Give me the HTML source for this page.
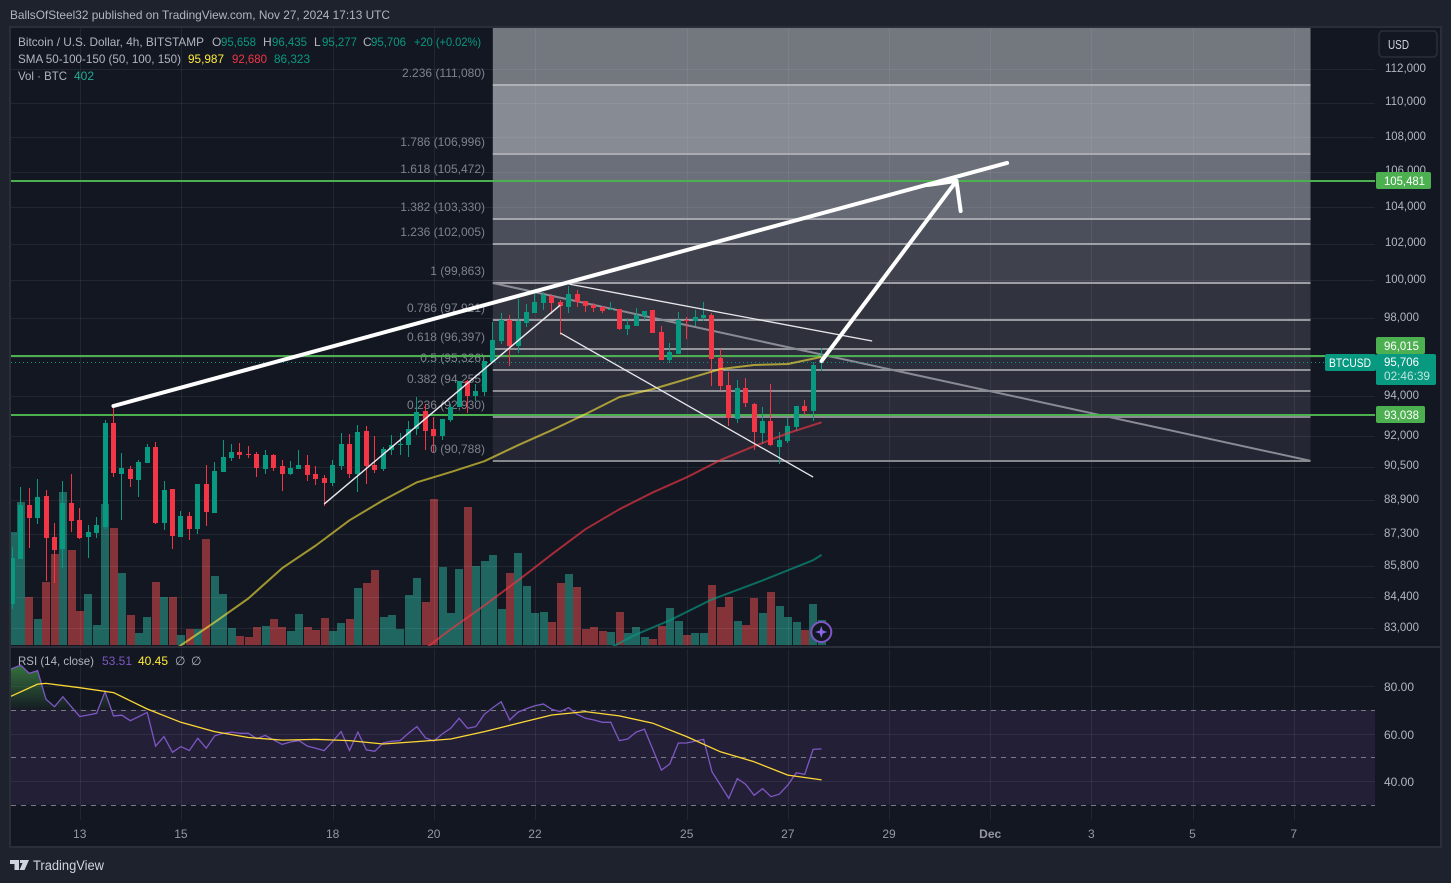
<!DOCTYPE html>
<html lang="en">
<head>
<meta charset="utf-8">
<title>BTCUSD 4h chart</title>
<style>
html,body{margin:0;padding:0;background:#1e222d;width:1451px;height:883px;overflow:hidden}
svg{display:block;font-family:"Liberation Sans",sans-serif;font-size:12px}
</style>
</head>
<body>
<svg id="chart" xmlns="http://www.w3.org/2000/svg" width="1451" height="883" viewBox="0 0 1451 883">
  <defs>
    <clipPath id="plot-clip"><rect x="11" y="28" width="1364" height="618"></rect></clipPath>
    <clipPath id="rsi-clip"><rect x="11" y="649" width="1364" height="171"></rect></clipPath>
    <clipPath id="rsi-over-clip"><rect x="11" y="649" width="1364" height="61"></rect></clipPath>
    <linearGradient id="rsi-over-gradient" x1="0" y1="665" x2="0" y2="710" gradientUnits="userSpaceOnUse">
      <stop offset="0" stop-color="#4caf50" stop-opacity="0.6"></stop>
      <stop offset="1" stop-color="#4caf50" stop-opacity="0.03"></stop>
    </linearGradient>
  </defs>
  <rect x="0" y="0" width="1451" height="883" fill="#1e222d"></rect>
  <text x="10" y="19" fill="#b2b5be" textLength="380" lengthAdjust="spacingAndGlyphs">BallsOfSteel32 published on TradingView.com, Nov 27, 2024 17:13 UTC</text>
  <rect x="10" y="27" width="1431" height="820" fill="#131722" stroke="#2a2e39" stroke-width="2"></rect>
  <g id="layer-back"></g>
  <g id="layer-main" clip-path="url(#plot-clip)"></g>
  <g id="layer-rsi" clip-path="url(#rsi-clip)"></g>
  <rect x="10" y="646" width="1431" height="2" fill="#2a2e39"></rect>
  <g id="layer-axis"></g>

  <g>
    <text x="18" y="46" fill="#b2b5be" textLength="186" lengthAdjust="spacingAndGlyphs">Bitcoin / U.S. Dollar, 4h, BITSTAMP</text>
    <text x="212" y="46" fill="#b2b5be">O</text>
    <text x="221" y="46" fill="#089981" textLength="35" lengthAdjust="spacingAndGlyphs">95,658</text>
    <text x="263" y="46" fill="#b2b5be">H</text>
    <text x="272" y="46" fill="#089981" textLength="35" lengthAdjust="spacingAndGlyphs">96,435</text>
    <text x="314" y="46" fill="#b2b5be">L</text>
    <text x="322" y="46" fill="#089981" textLength="35" lengthAdjust="spacingAndGlyphs">95,277</text>
    <text x="363" y="46" fill="#b2b5be">C</text>
    <text x="371" y="46" fill="#089981" textLength="35" lengthAdjust="spacingAndGlyphs">95,706</text>
    <text x="414" y="46" fill="#089981" textLength="67" lengthAdjust="spacingAndGlyphs">+20 (+0.02%)</text>
    <text x="18" y="63" fill="#b2b5be" textLength="163" lengthAdjust="spacingAndGlyphs">SMA 50-100-150 (50, 100, 150)</text>
    <text x="188" y="63" fill="#ffeb3b" textLength="36" lengthAdjust="spacingAndGlyphs">95,987</text>
    <text x="232" y="63" fill="#f23645" textLength="35" lengthAdjust="spacingAndGlyphs">92,680</text>
    <text x="274" y="63" fill="#089981" textLength="36" lengthAdjust="spacingAndGlyphs">86,323</text>
    <text x="18" y="80" fill="#b2b5be" textLength="49" lengthAdjust="spacingAndGlyphs">Vol · BTC</text>
    <text x="74" y="80" fill="#22ab94">402</text>
  </g>
  <g>
    <text x="18" y="665" fill="#b2b5be" textLength="76" lengthAdjust="spacingAndGlyphs">RSI (14, close)</text>
    <text x="102" y="665" fill="#7e57c2">53.51</text>
    <text x="138" y="665" fill="#ffeb3b">40.45</text>
    <text x="175" y="665" fill="#b2b5be">∅</text>
    <text x="191" y="665" fill="#b2b5be">∅</text>
  </g>
  <g>
    <path d="M10 860h9v10h-4.500v-6h-4.500zM20 860h9l-4.500 10h-5l3-7h-2.500z" fill="#d1d4dc"></path>
    <text x="33" y="870" font-size="13.500" fill="#d1d4dc" textLength="71" lengthAdjust="spacingAndGlyphs">TradingView</text>
  </g>
</svg>
<script>
var opens = [84060,86120,88650,88040,89080,87140,86590,88740,87940,87140,87330,87610,92640,90140,90380,89850,90670,91460,87800,89410,87140,88130,87520,89650,88270,90240,90920,91210,91110,91110,90380,91060,90530,90140,90380,90580,90140,89950,89700,90530,91600,90140,92240,90580,90380,91310,91550,91550,92340,93240,92340,92000,92790,93440,94750,93990,94190,95720,96810,97900,96550,97740,98270,98790,99170,98850,98580,99280,98900,98690,98580,98430,98480,97430,97590,98110,98430,97270,95820,96130,97900,97850,98000,98160,95930,94550,92840,94400,93590,92140,92740,91460,91750,92440,93490,93240,95658];
var highs = [86680,89510,89460,89900,89370,87800,89800,90140,88510,87710,88080,92790,93390,91160,90530,90820,91600,91700,89800,89410,88370,88320,89650,90580,90720,91800,91600,91650,91500,91210,91310,91110,90820,90770,91310,91060,90530,90090,90820,92140,92100,92540,92490,92000,91460,92050,92140,92740,93940,93590,92940,92840,93590,94750,94800,94600,95770,97790,98270,98160,99010,98740,99280,99380,99280,98950,99710,99490,98900,98790,98640,98850,98480,98000,98530,98370,98430,97590,96700,98320,98060,98430,98850,98270,96390,95210,94800,94900,93640,93440,94600,92190,92890,93490,93790,95720,96435];
var lows = [83840,86120,86630,87750,85110,85020,85710,87380,87050,86170,87100,87520,89990,87940,89510,89030,90670,87750,87470,86590,87140,87000,87280,87660,88270,90240,90770,90870,90920,89990,90140,90280,89320,90090,90380,89800,89610,88600,89560,90330,89950,89270,89650,90190,90280,91060,91060,90970,92050,91310,91210,91800,92690,93440,93140,93740,93990,95720,96650,95520,96190,97530,98270,98430,98220,97120,98270,98580,98320,98320,98270,98430,97380,97120,97590,97900,97220,95820,95670,96130,96910,97590,97850,94500,94290,92490,92640,93440,91310,91600,91500,90620,91650,92240,93040,92740,95277];
var closes = [86170,88650,88040,89030,87100,86540,88740,87890,87100,87380,87710,92640,90190,90430,89900,90720,91460,87800,89370,87190,88130,87520,89650,88320,90280,90970,91210,91060,91060,90430,91060,90430,90140,90430,90580,90090,89900,89700,90580,91600,90140,92190,90530,90330,91360,91550,91600,92340,93190,92240,92000,92840,93440,94750,93990,94240,95770,96860,97900,96550,97850,98320,98850,99220,98790,98640,99280,98850,98640,98530,98370,98480,97430,97640,98160,98370,97220,95820,96240,97900,97850,98060,98160,95880,94500,92890,94400,93640,92190,92740,91550,91800,92490,93490,93240,95570,95706];
var volumes = [1824,2304,768,416,1008,1456,2464,1520,544,816,320,2272,1888,1152,480,192,448,1008,768,768,160,256,256,1712,1104,816,272,144,128,288,304,416,288,224,496,288,240,432,224,352,416,912,992,1200,448,480,256,800,1072,688,2352,1248,512,1216,2224,1264,1344,1440,576,1152,1472,944,512,528,368,992,1136,928,256,288,224,208,528,192,288,128,96,304,592,384,160,192,192,960,608,768,384,320,752,512,848,624,448,368,240,656,402];
var rsiLeadIn = 85.3;
var rsiValues = [87.4,88.8,85.3,86.5,74.4,71.3,75.5,71.3,67.1,67.8,68.5,77.6,67.4,67.7,65.4,67.1,68.9,54.7,58.7,52.1,54.5,52.8,58.0,53.8,59.0,60.1,60.6,60.1,60.1,57.8,59.2,57.3,55.4,56.4,57.0,54.7,53.8,52.8,56.6,60.8,52.9,60.6,53.1,52.5,56.1,56.7,57.0,60.1,62.9,58.2,56.8,59.8,62.2,66.4,62.2,62.9,68.1,70.9,73.4,65.7,69.0,70.5,71.7,72.4,70.2,69.2,70.9,68.1,66.4,65.7,64.7,64.7,57.0,57.7,60.6,61.8,53.1,44.6,47.2,56.0,56.0,56.8,57.5,43.9,38.3,32.7,41.0,38.6,34.0,36.8,33.4,34.5,38.3,43.5,42.8,53.3,53.51];
var rsiMaBars = [-1,0,3,4,8,12,16,20,24,28,32,36,40,44,48,52,56,60,64,68,72,76,80,84,88,92,96];
var rsiMaValues = [74.8,75.9,80.8,81.1,79.3,77.2,70.3,64.7,60.8,58.3,57.2,57.5,57.0,55.6,56.6,57.7,60.8,64.3,67.8,69.2,67.4,64.3,58.7,52.3,48.1,42.5,40.45];
var sma50Bars = [19,20,24,28,32,36,40,44,48,52,56,60,64,68,72,76,80,84,88,92,96];
var sma50Values = [82010,82240,83260,84330,85710,86760,87940,88890,89750,90240,90770,91550,92290,93090,93940,94350,94850,95360,95570,95620,95987];
var sma100Bars = [49,52,56,60,64,68,72,76,80,84,88,92,96];
var sma100Values = [82100,82950,84020,85150,86350,87520,88460,89270,89990,90820,91500,92140,92680];
var sma150Bars = [71,74,78,83,89,95,96];
var sma150Values = [82140,82720,83350,84290,85150,86080,86323];
var priceTicks = [112000,110000,108000,106000,104000,102000,100000,98000,96000,94000,92000,90500,88900,87300,85800,84400,83000];
var rsiTicks = [80,60,40];
var rsiBands = [70,50,30];
var dateLabels = ["13","15","18","20","22","25","27","29","Dec","3","5","7"];
var dateBars = [8,20,38,50,62,80,92,104,116,128,140,152];
var fibRatios = ["0","0.236","0.382","0.5","0.618","0.786","1","1.236","1.382","1.618","1.786","2.236"];
var fibPrices = [90788,92930,94255,95326,96397,97921,99863,102005,103330,105472,106996,111080];
var levelPrices = [105481,96015,93038];
var fibStartBar = 57;
var fibEndBar = 154;
var fibTopPrice = 115500;
var lastPrice = 95706;
var trendStartBars = [12,65,65,37,66,96];
var trendStartPrices = [93494,98690,97230,88710,99810,95777];
var trendEndBars = [118,37,95,65,102,112];
var trendEndPrices = [106500,88710,90000,98690,96810,105481];
var arrowWingBars = [108.6,112.5];
var arrowWingPrices = [105250,103790];
var arrowTipBar = 112;
var arrowTipPrice = 105481;

function yPrice(p){return 69+1866*Math.log(112000/p);}
function xBar(i){return 12.3+8.43*i;}
function yVolume(v){return 645-v/16.08;}
function yRsi(v){return 686+(80-v)*2.375;}

var NS='http://www.w3.org/2000/svg';
function make(parent,tag,attrs,text){
  var n=document.createElementNS(NS,tag);
  for(var k in attrs){n.setAttribute(k,attrs[k]);}
  if(text!==undefined){n.textContent=text;}
  parent.appendChild(n);
  return n;
}
function fmt(p){return String(p).replace(/\B(?=(\d{3})+$)/g,',');}
function polyPoints(bars,vals,yf){
  return bars.map(function(b,i){return xBar(b).toFixed(1)+','+yf(vals[i]).toFixed(1);}).join(' ');
}
function allBars(arr){return arr.map(function(_,i){return i;});}
function labelWidth(s){return s.length>=7?41:35;}
function fibY(p){return Math.round(yPrice(p)+0.15);}

var main=document.getElementById('layer-main');
var rsi=document.getElementById('layer-rsi');
var axis=document.getElementById('layer-axis');
var el;

// volume
volumes.forEach(function(v,i){
  var top=Math.round(yVolume(v));
  el=make(main,'rect',{x:Math.round(xBar(i)-3.7),y:top,width:8,height:645-top,fill:closes[i]>=opens[i]?'#1f6661':'#843439'});
  
  
});

// fib zones
var fibBandColors=['#242733','#2a2d39','#2c2f3b','#2c2f3b','#2e303c','#31343f','#3f424d','#4b4f5b','#666a75','#6b6f79','#878c94','#73787f'];
var fibX0=xBar(fibStartBar), fibX1=xBar(fibEndBar);
var fibEdges=fibPrices.concat([fibTopPrice]);
for(var b=0;b<fibEdges.length-1;b++){
  var yb=fibY(fibEdges[b]), yt=Math.max(28,fibY(fibEdges[b+1]));
  el=make(main,'rect',{x:fibX0,y:yt,width:fibX1-fibX0,height:yb-yt,fill:fibBandColors[b]});
  
  
}

// grid
priceTicks.forEach(function(p){
  var y=Math.round(yPrice(p))+0.5;
  el=make(main,'line',{x1:11,x2:1375,y1:y,y2:y,stroke:'#f0f3fa','stroke-opacity':0.07});
  
  
});
dateBars.forEach(function(b){
  var x=Math.round(xBar(b))+0.5;
  el=make(main,'line',{x1:x,x2:x,y1:28,y2:646,stroke:'#f0f3fa','stroke-opacity':0.07});
  
  
});

// fib lines and labels
fibPrices.forEach(function(p,i){
  var y=fibY(p);
  var shade=140+Math.round(i*3.6);
  el=make(main,'line',{x1:fibX0,x2:fibX1,y1:y,y2:y,stroke:'rgb('+(shade-6)+','+(shade-4)+','+(shade+2)+')','stroke-width':2});
  
  
  el=make(main,'text',{x:485,y:y-8,'text-anchor':'end',fill:'#7f828d'},fibRatios[i]+' ('+fmt(p)+')');
  
  
});

// fib diagonal
el=make(main,'line',{x1:fibX0,y1:yPrice(fibPrices[6]),x2:fibX1,y2:yPrice(fibPrices[0]),stroke:'#8a8c95','stroke-width':2});



// horizontal levels
levelPrices.forEach(function(p){
  var y=Math.round(yPrice(p));
  el=make(main,'line',{x1:11,x2:1375,y1:y,y2:y,stroke:'#4caf50','stroke-width':2});
  
  
});

// last price dotted line
el=make(main,'line',{x1:11,x2:1325,y1:Math.round(yPrice(lastPrice))+0.5,y2:Math.round(yPrice(lastPrice))+0.5,stroke:'#089981','stroke-dasharray':'1 3'});



// candles
opens.forEach(function(o,i){
  var c=closes[i], up=c>=o, col=up?'#089981':'#f23645';
  var left=Math.round(xBar(i)-2.5);
  var yh=Math.round(yPrice(highs[i])), yl=Math.round(yPrice(lows[i]));
  var yo=Math.round(yPrice(o)), yc=Math.round(yPrice(c));
  var top=Math.min(yo,yc), h=Math.max(1,Math.abs(yo-yc));
  el=make(main,'rect',{x:left+2,y:yh,width:1,height:yl-yh,fill:col});
  
  
  el=make(main,'rect',{x:left,y:top,width:5,height:h,fill:col});
  
  
});

// SMAs
el=make(main,'polyline',{points:polyPoints(sma50Bars,sma50Values,yPrice),fill:'none',stroke:'#ffeb3b','stroke-opacity':0.6,'stroke-width':2,'stroke-linejoin':'round'});


el=make(main,'polyline',{points:polyPoints(sma100Bars,sma100Values,yPrice),fill:'none',stroke:'#f23645','stroke-opacity':0.65,'stroke-width':2,'stroke-linejoin':'round'});


el=make(main,'polyline',{points:polyPoints(sma150Bars,sma150Values,yPrice),fill:'none',stroke:'#089981','stroke-opacity':0.65,'stroke-width':2,'stroke-linejoin':'round'});



// drawings
trendStartBars.forEach(function(b,i){
  var heavy=(i===0||i===5);
  el=make(main,'line',{x1:xBar(b),y1:yPrice(trendStartPrices[i]),x2:xBar(trendEndBars[i]),y2:yPrice(trendEndPrices[i]),stroke:heavy?'#ffffff':'#e8e8ec','stroke-width':heavy?4:1.3,'stroke-linecap':heavy?'round':'butt'});
  
  
});
arrowWingBars.forEach(function(b,i){
  el=make(main,'line',{x1:xBar(arrowTipBar),y1:yPrice(arrowTipPrice),x2:xBar(b),y2:yPrice(arrowWingPrices[i]),stroke:'#ffffff','stroke-width':4,'stroke-linecap':'round'});
  
  
});

// volume badge
var bx=xBar(96)-0.3, by=632;
el=make(main,'circle',{cx:bx,cy:by,r:10,fill:'#131722',stroke:'#7e57c2','stroke-width':2});


el=make(main,'path',{d:'M'+bx+' '+(by-6)+'L'+(bx+1.5)+' '+(by-1.5)+'L'+(bx+6)+' '+by+'L'+(bx+1.5)+' '+(by+1.5)+'L'+bx+' '+(by+6)+'L'+(bx-1.5)+' '+(by+1.5)+'L'+(bx-6)+' '+by+'L'+(bx-1.5)+' '+(by-1.5)+'Z',fill:'#8c66e8'});



// RSI pane
el=make(rsi,'rect',{x:11,y:yRsi(70),width:1364,height:yRsi(30)-yRsi(70),fill:'#231f37'});


rsiTicks.forEach(function(v){
  var y=Math.round(yRsi(v))+0.5;
  el=make(rsi,'line',{x1:11,x2:1375,y1:y,y2:y,stroke:'#f0f3fa','stroke-opacity':0.07});
  
  
});
dateBars.forEach(function(b){
  var x=Math.round(xBar(b))+0.5;
  el=make(rsi,'line',{x1:x,x2:x,y1:649,y2:820,stroke:'#f0f3fa','stroke-opacity':0.07});
  
  
});
rsiBands.forEach(function(v){
  var y=Math.round(yRsi(v))+0.5;
  el=make(rsi,'line',{x1:11,x2:1375,y1:y,y2:y,stroke:'#787b86','stroke-dasharray':'5 5'});
  
  
});
var rsiBarIdx=[-1].concat(allBars(rsiValues));
var rsiSeries=[rsiLeadIn].concat(rsiValues);
var fillPts=polyPoints(rsiBarIdx,rsiSeries,yRsi)+' '+xBar(96).toFixed(1)+','+yRsi(70)+' '+xBar(-1).toFixed(1)+','+yRsi(70);
var overGroup=make(rsi,'g',{'clip-path':'url(#rsi-over-clip)'});
el=make(overGroup,'polygon',{points:fillPts,fill:'url(#rsi-over-gradient)'});


el=make(rsi,'polyline',{points:polyPoints(rsiBarIdx,rsiSeries,yRsi),fill:'none',stroke:'#7e57c2','stroke-width':1.3});


el=make(rsi,'polyline',{points:polyPoints(rsiMaBars,rsiMaValues,yRsi),fill:'none',stroke:'#fdd835','stroke-width':1.3,'stroke-linejoin':'round'});



// axes
priceTicks.forEach(function(p){
  var s=fmt(p);
  el=make(axis,'text',{x:s.length>=7?1385:1384,y:Math.round(yPrice(p)-1.3)+4,fill:'#b2b5be',textLength:labelWidth(s),lengthAdjust:'spacingAndGlyphs'},s);
  
  
});
rsiTicks.forEach(function(v){
  el=make(axis,'text',{x:1384,y:Math.round(yRsi(v))+5,fill:'#b2b5be'},v.toFixed(2));
  
  
});
dateLabels.forEach(function(t,i){
  el=make(axis,'text',{x:xBar(dateBars[i]),y:838,'text-anchor':'middle',fill:'#9598a1','font-weight':t==='Dec'?'bold':'normal'},t);
  
  
});

// USD button
el=make(axis,'rect',{x:1379,y:31,width:58,height:26,rx:4,fill:'#131722',stroke:'#2a2e39','stroke-width':1.5});


el=make(axis,'text',{x:1388,y:49,'font-size':13,fill:'#d1d4dc',textLength:21,lengthAdjust:'spacingAndGlyphs'},'USD');



// last price tag drawn first so the raised level tag sits directly above it
el=make(axis,'rect',{x:1325,y:354,width:51,height:17,rx:2,fill:'#089981'});


el=make(axis,'text',{x:1329,y:367,fill:'#ffffff',textLength:42,lengthAdjust:'spacingAndGlyphs'},'BTCUSD');


el=make(axis,'rect',{x:1376,y:354,width:60,height:31,rx:2,fill:'#089981'});


el=make(axis,'text',{x:1384,y:366,fill:'#ffffff',textLength:35,lengthAdjust:'spacingAndGlyphs'},fmt(lastPrice));


el=make(axis,'text',{x:1384,y:380,fill:'#bfe3dc',textLength:46,lengthAdjust:'spacingAndGlyphs'},'02:46:39');



// level price tags; a tag that would collide with the last price tag is pushed above it
levelPrices.forEach(function(p){
  var s=fmt(p);
  var y=Math.round(yPrice(p));
  if(y+9>354&&y-8<385){y=346;}
  el=make(axis,'rect',{x:1376,y:y-9,width:s.length>=7?55:49,height:17,rx:2,fill:'#4caf50'});
  
  
  el=make(axis,'text',{x:1384,y:y+4,fill:'#ffffff',textLength:labelWidth(s),lengthAdjust:'spacingAndGlyphs'},s);
  
  
});
</script>
</body>
</html>
